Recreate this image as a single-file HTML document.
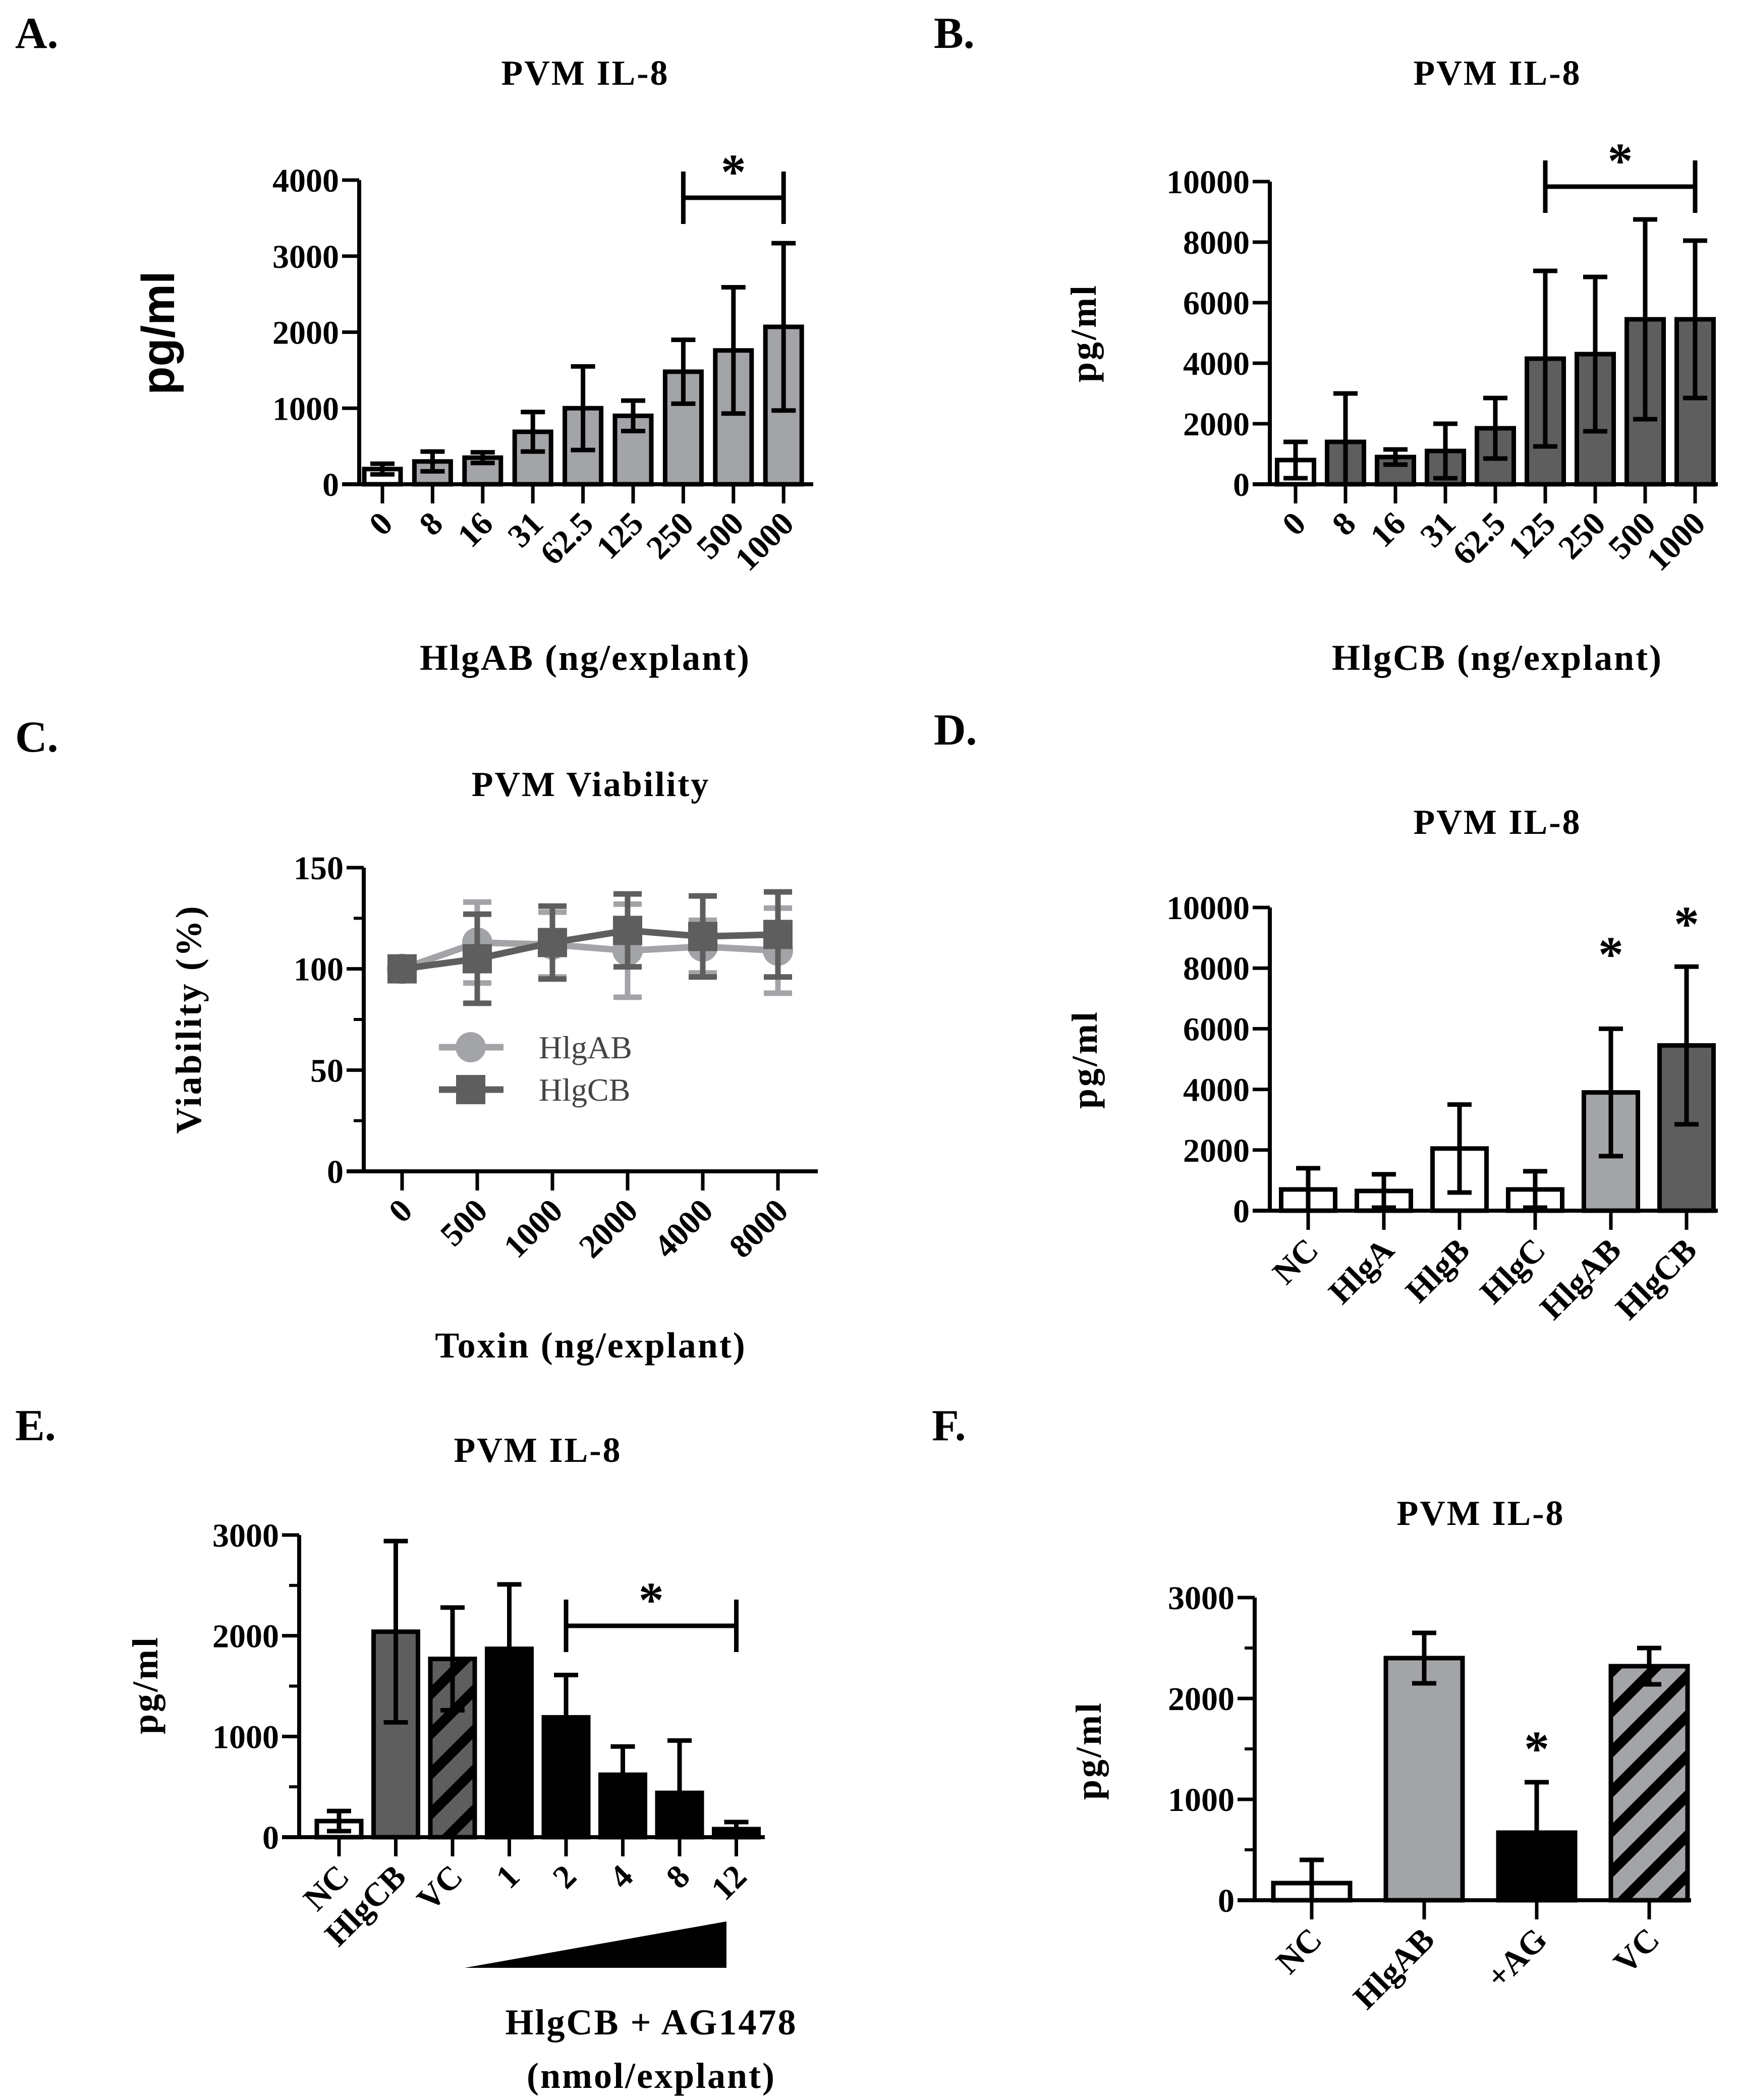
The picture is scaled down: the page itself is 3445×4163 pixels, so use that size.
<!DOCTYPE html>
<html><head><meta charset="utf-8"><style>
html,body{margin:0;padding:0;background:#fff;}
svg{display:block;font-family:"Liberation Serif",serif;font-weight:bold;}
</style></head><body>
<svg id="fig" xmlns="http://www.w3.org/2000/svg" width="3445" height="4163" viewBox="0 0 3445 4163">
<defs>
<pattern id="hatchDark" patternUnits="userSpaceOnUse" width="56" height="56" patternTransform="rotate(45)"><rect width="56" height="56" fill="#5e5e5e"/><rect width="20" height="56" fill="#000"/></pattern>
<pattern id="hatchLight" patternUnits="userSpaceOnUse" width="56" height="56" patternTransform="rotate(45)"><rect width="56" height="56" fill="#a3a4a8"/><rect width="20" height="56" fill="#000"/></pattern>
</defs>
</svg>
<script>
// Panel A
const aCats=["0","8","16","31","62.5","125","250","500","1000"];
const aVals=[200,300,350,690,1000,900,1480,1760,2070];
const aErrs=[70,130,70,260,550,200,420,830,1100];
const aTicks=[0,1000,2000,3000,4000];
// Panel B
const bCats=["0","8","16","31","62.5","125","250","500","1000"];
const bVals=[800,1400,900,1100,1850,4150,4300,5450,5450];
const bErrs=[600,1600,250,900,1000,2900,2550,3300,2600];
const bTicks=[0,2000,4000,6000,8000,10000];
// Panel C
const cCats=["0","500","1000","2000","4000","8000"];
const cAB=[100,113,112,109,111,109];
const cABErr=[0,20,16,23,13,21];
const cCB=[100,105,113,119,116,117];
const cCBErr=[0,22,18,18,20,21];
const cTicks=[0,50,100,150];
// Panel D
const dCats=["NC","HlgA","HlgB","HlgC","HlgAB","HlgCB"];
const dVals=[700,650,2050,700,3900,5450];
const dErrs=[700,550,1450,600,2100,2600];
const dTicks=[0,2000,4000,6000,8000,10000];
// Panel E
const eCats=["NC","HlgCB","VC","1","2","4","8","12"];
const eVals=[160,2040,1770,1870,1190,620,440,80];
const eErrs=[100,900,510,640,420,280,520,70];
const eTicks=[0,1000,2000,3000];
// Panel F
const fCats=["NC","HlgAB","+AG","VC"];
const fVals=[170,2400,670,2320];
const fErrs=[230,250,500,180];
const fTicks=[0,1000,2000,3000];

const svg=document.getElementById('fig');
const NS="http://www.w3.org/2000/svg";
function mk(tag,at,parent){const e=document.createElementNS(NS,tag);for(const k in at)e.setAttribute(k,at[k]);(parent||svg).appendChild(e);return e;}
function txt(s,at,parent){const e=mk('text',at,parent);e.textContent=s;return e;}

function panelText(p){
  const g=mk('g',{});
  
  
  let t=txt(p.id+'.',{x:p.lx,y:p.ly,'font-size':88},g);
  
  
  t=txt(p.title,{x:p.tx,y:p.ty,'font-size':70,'text-anchor':'middle','letter-spacing':3},g);
  
  
  (p.xt||[]).forEach((s,i)=>{const e=txt(s,{x:p.xtx,y:p.xty+i*106,'font-size':72,'text-anchor':'middle','letter-spacing':3},g);
    
    });
  const yt=txt(p.yt,{x:0,y:0,'font-size':p.ytSize||72,'text-anchor':'middle','letter-spacing':p.ytSize?0:4,transform:`translate(${p.ytx},${p.yty}) rotate(-90)`,'font-family':p.ytFont||'"Liberation Serif",serif'},g);
  
  
}

function axes(p,nCats,centerFn){
  const g=mk('g',{});
  
  
  const ys=v=>p.y0-(v/p.ymax)*(p.y0-p.yTop);
  mk('line',{x1:p.ax,y1:p.yTop,x2:p.ax,y2:p.y0,stroke:'#000','stroke-width':8},g);
  mk('line',{x1:p.ax-34,y1:p.y0,x2:p.xEnd,y2:p.y0,stroke:'#000','stroke-width':8},g);
  p.ticks.forEach(v=>{
    mk('line',{x1:p.ax-34,y1:ys(v),x2:p.ax,y2:ys(v),stroke:'#000','stroke-width':7},g);
    const t=txt(String(v),{x:p.ax-40,y:ys(v)+23,'font-size':66,'text-anchor':'end'},g);
    
    
  });
  if(p.minor){for(let v=p.minor;v<p.ymax;v+=p.minor*2){mk('line',{x1:p.ax-20,y1:ys(v),x2:p.ax,y2:ys(v),stroke:'#000','stroke-width':6},g);}}
  for(let i=0;i<nCats;i++){const cx=centerFn(i);mk('line',{x1:cx,y1:p.y0,x2:cx,y2:p.y0+38,stroke:'#000','stroke-width':7},g);}
  p.cats.forEach((c,i)=>{const cx=centerFn(i);
    const t=txt(c,{x:0,y:0,'font-size':66,'text-anchor':'end',transform:`translate(${cx+24},${p.y0+82}) rotate(-45)`},g);
    
    });
  return ys;
}

function barPanel(p){
  panelText(p);
  const xs=i=>p.c0+i*p.sp;
  const ys=axes(p,p.cats.length,xs);
  const g=mk('g',{});
  
  
  p.vals.forEach((v,i)=>{
    const cx=xs(i),top=ys(v),fill=p.fills[i];
    const r=mk('rect',{x:cx-p.bw/2,y:top,width:p.bw,height:p.y0-top,fill:fill,stroke:'#000','stroke-width':9},g);
    
    
    const e=p.errs[i],up=ys(v+e),lo=p.upOnly&&p.upOnly[i]?top:ys(Math.max(v-e,0));
    const eb=mk('path',{d:`M${cx},${lo} V${up} M${cx-24},${up} H${cx+24}`+(p.upOnly&&p.upOnly[i]?'':` M${cx-24},${lo} H${cx+24}`),stroke:'#000','stroke-width':9,fill:'none'},g);
    
    
  });
  (p.brackets||[]).forEach(b=>{
    const x1=xs(b.from),x2=xs(b.to);
    const br=mk('path',{d:`M${x1},${b.y-52} V${b.y+52} M${x1},${b.y} H${x2} M${x2},${b.y-52} V${b.y+52}`,stroke:'#000','stroke-width':9,fill:'none'});
    
    
    const s=txt('*',{x:(x1+x2)/2,y:b.y-18,'font-size':100,'text-anchor':'middle'});
    
    
  });
  (p.stars||[]).forEach(st=>{
    const s=txt('*',{x:xs(st.i),y:st.y,'font-size':100,'text-anchor':'middle'});
    
    
  });
}

const L='#a3a4a8',D='#5e5e5e',W='#fff',K='#000';
barPanel({id:'A',title:'PVM IL-8',lx:30,ly:95,tx:1160,ty:168,xt:['HlgAB (ng/explant)'],xtx:1160,xty:1328,
  yt:'pg/ml',ytx:345,yty:660,ytSize:92,ytFont:'"Liberation Sans",sans-serif',
  ax:712,y0:960,yTop:357,ymax:4000,xEnd:1612,c0:758,sp:99.4,bw:72,ticks:aTicks,cats:aCats,vals:aVals,errs:aErrs,
  fills:[W,L,L,L,L,L,L,L,L],brackets:[{from:6,to:8,y:392}]});
barPanel({id:'B',title:'PVM IL-8',lx:1851,ly:95,tx:2968,ty:168,xt:['HlgCB (ng/explant)'],xtx:2968,xty:1328,
  yt:'pg/ml',ytx:2172,yty:660,
  ax:2517,y0:960,yTop:360,ymax:10000,xEnd:3405,c0:2568,sp:99,bw:73,ticks:bTicks,cats:bCats,vals:bVals,errs:bErrs,
  fills:[W,D,D,D,D,D,D,D,D],brackets:[{from:5,to:8,y:370}]});
barPanel({id:'D',title:'PVM IL-8',lx:1851,ly:1476,tx:2968,ty:1653,
  yt:'pg/ml',ytx:2174,yty:2100,
  ax:2517,y0:2400,yTop:1799,ymax:10000,xEnd:3405,c0:2593,sp:150,bw:107,ticks:dTicks,cats:dCats,vals:dVals,errs:dErrs,
  fills:[W,W,W,W,L,D],stars:[{i:4,y:1925},{i:5,y:1865}]});
barPanel({id:'E',title:'PVM IL-8',lx:30,ly:2855,tx:1066,ty:2898,xt:['HlgCB + AG1478','(nmol/explant)'],xtx:1291,xty:4033,
  yt:'pg/ml',ytx:312,yty:3340,
  ax:593,y0:3642,yTop:3043,ymax:3000,minor:500,xEnd:1516,c0:672,sp:112.5,bw:88,ticks:eTicks,cats:eCats,vals:eVals,errs:eErrs,
  fills:[W,D,'url(#hatchDark)',K,K,K,K,K],upOnly:[false,false,false,true,true,true,true,true],brackets:[{from:4,to:7,y:3223}]});
barPanel({id:'F',title:'PVM IL-8',lx:1847,ly:2855,tx:2935,ty:3023,
  yt:'pg/ml',ytx:2182,yty:3470,
  ax:2487,y0:3767,yTop:3167,ymax:3000,minor:500,xEnd:3352,c0:2600,sp:223,bw:152,ticks:fTicks,cats:fCats,vals:fVals,errs:fErrs,
  fills:[W,L,K,'url(#hatchLight)'],upOnly:[false,false,true,false],stars:[{i:2,y:3500}]});

// wedge in E
const wedge=mk('polygon',{points:'921,3901 1440,3901 1440,3809',fill:'#000'});



// Panel C line chart
(function(){
  const p={id:'C',title:'PVM Viability',lx:30,ly:1490,tx:1171,ty:1578,xt:['Toxin (ng/explant)'],xtx:1171,xty:2691,
    yt:'Viability (%)',ytx:398,yty:2020,ax:721,y0:2322,yTop:1720,ymax:150,minor:25,xEnd:1621,ticks:cTicks,cats:cCats};
  panelText(p);
  const xs=i=>797+i*149;
  const ys=axes(p,cCats.length,xs);
  function series(vals,errs,color,shape,name){
    const g=mk('g',{});
    
    
    vals.forEach((v,i)=>{if(errs[i]>0){const cx=xs(i),u=ys(v+errs[i]),l=ys(v-errs[i]);
      mk('path',{d:`M${cx},${l} V${u} M${cx-28},${u} H${cx+28} M${cx-28},${l} H${cx+28}`,stroke:color,'stroke-width':11,fill:'none'},g);}});
    mk('polyline',{points:vals.map((v,i)=>xs(i)+','+ys(v)).join(' '),fill:'none',stroke:color,'stroke-width':13},g);
    vals.forEach((v,i)=>{const cx=xs(i),cy=ys(v);let m;
      if(shape==='c')m=mk('circle',{cx:cx,cy:cy,r:30,fill:color},g);
      else m=mk('rect',{x:cx-29,y:cy-29,width:58,height:58,fill:color},g);
      
      });
  }
  series(cAB,cABErr,'#a3a4a8','c','hlgab');
  series(cCB,cCBErr,'#5e5e5e','s','hlgcb');
  const lg=mk('g',{});
  
  
  mk('line',{x1:870,y1:2076,x2:998,y2:2076,stroke:'#a3a4a8','stroke-width':13},lg);
  mk('circle',{cx:933,cy:2076,r:30,fill:'#a3a4a8'},lg);
  mk('line',{x1:870,y1:2160,x2:998,y2:2160,stroke:'#5e5e5e','stroke-width':13},lg);
  mk('rect',{x:904,y:2131,width:58,height:58,fill:'#5e5e5e'},lg);
  let t=txt('HlgAB',{x:1068,y:2098,'font-size':64,'font-weight':'normal',fill:'#444'},lg);
  
  
  t=txt('HlgCB',{x:1068,y:2182,'font-size':64,'font-weight':'normal',fill:'#444'},lg);
  
  
})();
</script>
</body></html>
